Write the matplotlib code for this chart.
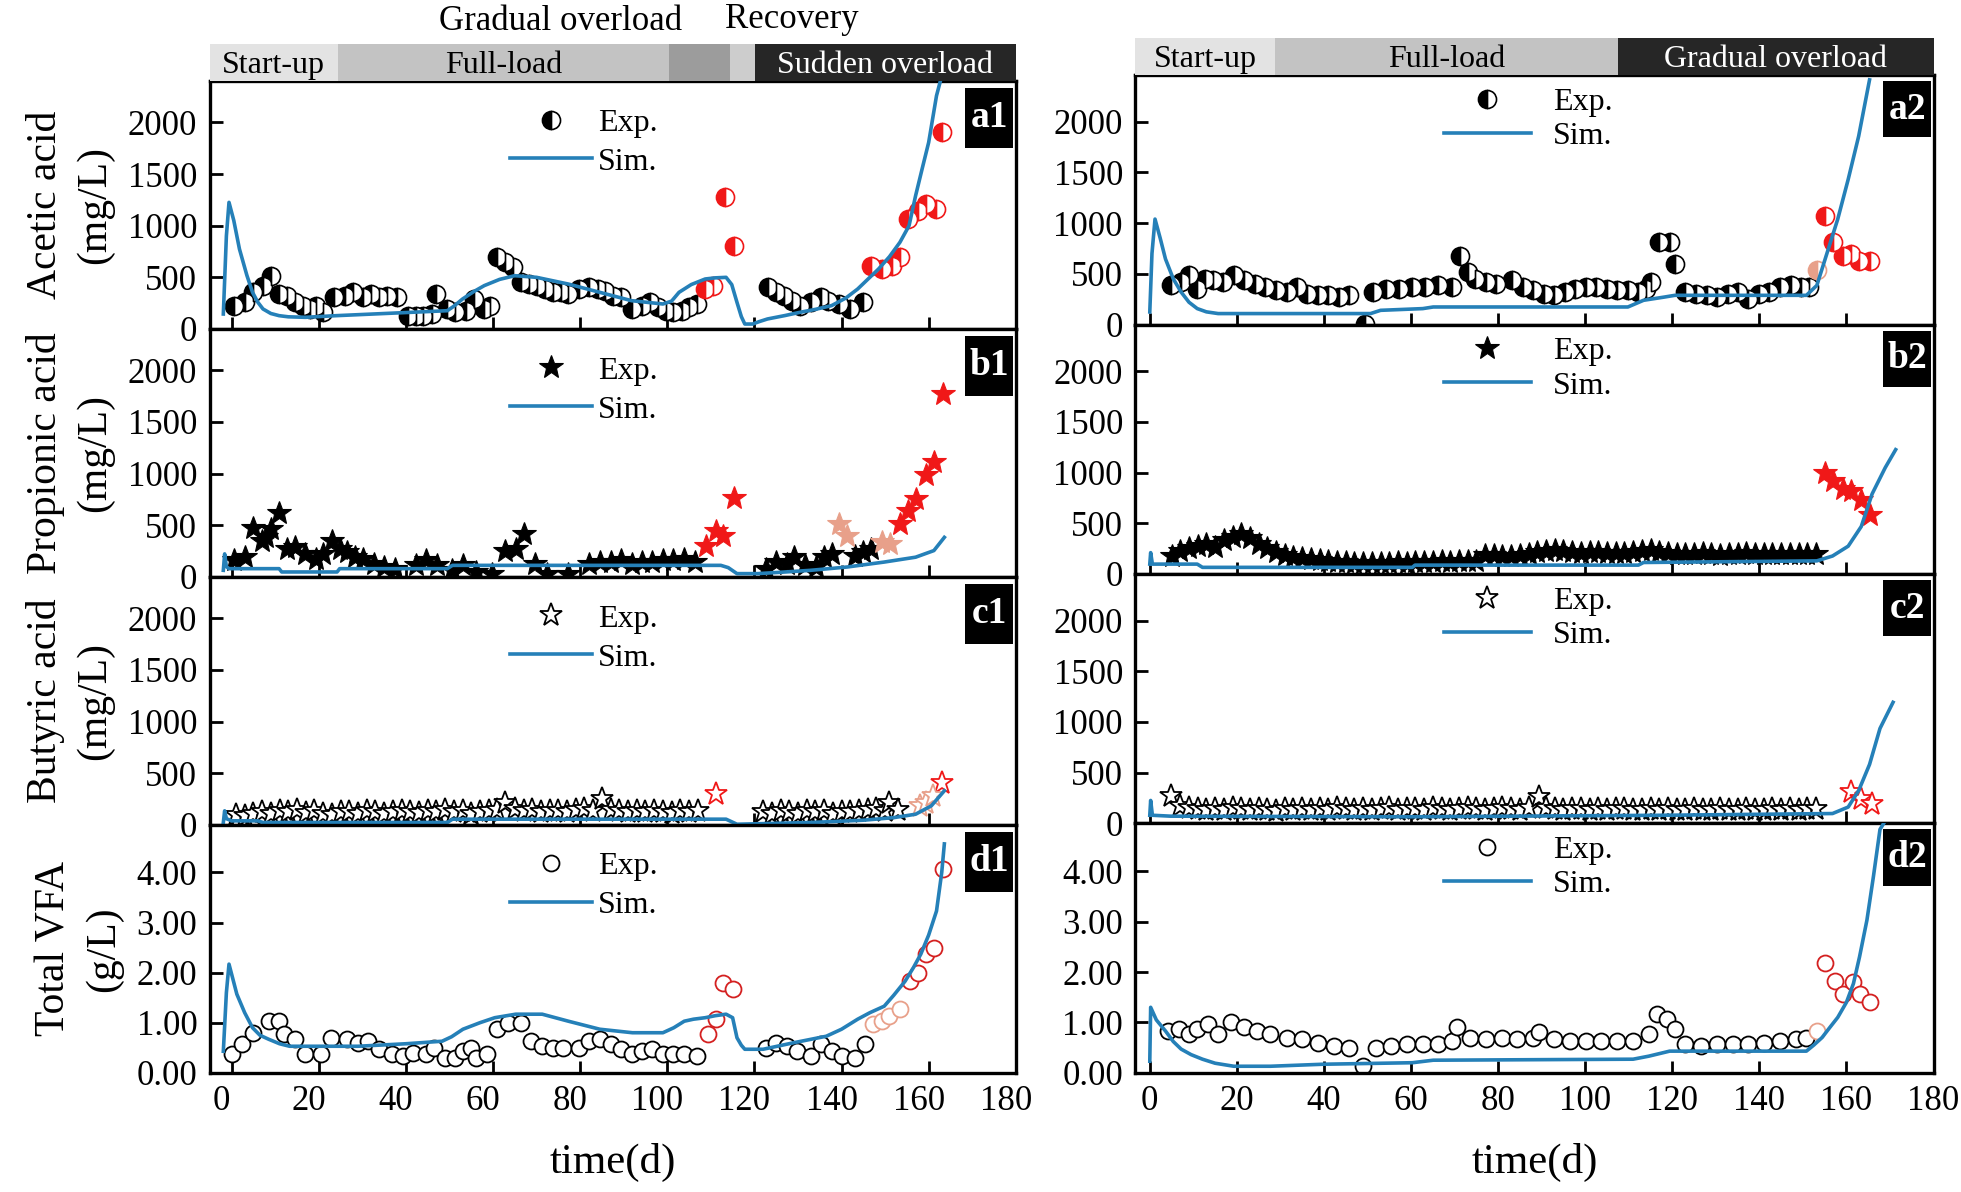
import matplotlib
matplotlib.use('Agg')
import matplotlib.pyplot as plt
from matplotlib.lines import Line2D
from matplotlib.patches import Rectangle
from matplotlib.transforms import ScaledTranslation

plt.rcParams['font.family'] = ['Liberation Serif', 'DejaVu Serif']

# ---------------- data ----------------
# Left column: a1 acetic, b1 propionic, c1 butyric, d1 total VFA
a1_t = [0.6, 3, 4.8, 7.2, 9, 10.9, 12.7, 14.5, 16.3, 18, 19.3, 21, 23.6, 26, 27.8, 30.2, 32, 33.8, 35.6, 38,
        40.5, 42.3, 44, 46, 47, 49.5, 51.3, 53.7, 55.6, 58, 59.2, 61, 62.8, 64.6, 66.4, 68.2, 70, 71.9, 73.7, 75.5,
        77.3, 79.7, 82.1, 84, 85.7, 87.6, 89.4, 91.8, 94.2, 96, 97.8, 99.6, 101.4, 103.3, 105, 106.9,
        123.2, 125, 126.8, 128.6, 130.4, 132.9, 135.3, 137, 139.5, 141.9, 144.9]
a1_v = [226, 258, 355, 420, 516, 339, 323, 258, 226, 194, 226, 161, 306, 323, 355, 306, 339, 306, 323, 306,
        129, 129, 129, 145, 339, 194, 161, 177, 290, 194, 226, 694, 645, 597, 452, 435, 420, 387, 355, 355,
        339, 387, 403, 387, 371, 323, 306, 194, 226, 258, 210, 177, 161, 177, 210, 242,
        403, 355, 323, 274, 226, 258, 306, 274, 242, 194, 258]
a1_red_t = [108.7, 110.5, 113.3, 115.3, 146.7, 149.2, 151.6, 153.4, 155.2, 157.6, 159.4, 161.6, 163]
a1_red_v = [387, 420, 1274, 806, 613, 581, 613, 694, 1065, 1145, 1210, 1161, 1903]
a1_sim_t = [-1.9, -1.2, -0.6, 0.5, 1.8, 3.5, 4.8, 6, 7.2, 9, 10.9, 13, 16.9, 24, 41, 49.5, 51, 53, 55.5, 58,
            61.5, 65, 70, 77.3, 84.5, 91.8, 99, 101, 102.7, 105.5, 108.7, 111, 113.5, 114.8, 116, 117, 117.8,
            119.6, 121, 123, 127, 130.4, 134, 137.7, 141, 143.7, 146, 148.5, 151, 153.4, 155.5, 157, 158.5,
            160, 161.8, 163]
a1_sim_v = [145, 900, 1226, 1050, 774, 520, 355, 260, 194, 150, 129, 118, 113, 129, 161, 177, 220, 290, 360, 420,
            480, 516, 500, 435, 355, 274, 242, 270, 355, 430, 484, 495, 500, 430, 258, 120, 48,
            48, 70, 97, 130, 161, 190, 226, 300, 387, 480, 581, 700, 839, 1000, 1290, 1550,
            1806, 2258, 2450]

b1_t = [0.6, 3, 4.8, 7, 7.9, 9, 10.9, 12.7, 14.5, 16.9, 19.3, 21, 23, 24.8, 26.6, 28.4, 30.2, 32.6, 35, 37.4,
        42.3, 44.7, 47.1, 50.7, 53.1, 56.2, 59.8, 62.8, 65.2, 67, 69.6, 72.5, 77.3, 82.1, 84.5, 87, 89.4, 91.8,
        94.2, 96.6, 99, 101.4, 103.9, 106.3, 122.6, 125, 127.4, 129.2, 131.6, 134.1, 135.9, 137.7, 143.1, 144.9, 146.7]
b1_v = [160, 191, 478, 351, 383, 463, 622, 271, 287, 223, 175, 223, 351, 271, 239, 191, 175, 128, 96, 80,
        112, 160, 112, 64, 112, 48, 32, 255, 271, 415, 128, 32, 32, 128, 144, 144, 160, 128,
        144, 144, 160, 160, 175, 144, 80, 144, 128, 191, 112, 96, 191, 223, 207, 239, 271]
b1_red_t = [109, 111.1, 112.9, 115.3, 153.4, 155.2, 157, 159.4, 161.2, 163.3]
b1_red_v = [303, 447, 399, 766, 510, 638, 750, 989, 1117, 1770]
b1_sal_t = [139.5, 141.3, 149.2, 151.2]
b1_sal_v = [510, 399, 335, 319]
b1_sim_t = [-1.9, -1.6, -1.2, -0.6, 10.9, 11.5, 24.2, 24.8, 49.5, 50.7, 68.8, 101.4, 112.3, 114, 116, 120.8,
            126, 132.9, 141.3, 149.8, 157, 161.2, 163.6]
b1_sim_v = [64, 223, 100, 80, 80, 48, 48, 80, 80, 112, 112, 112, 112, 90, 32, 32,
            45, 64, 96, 144, 191, 255, 383]

c1_t = [1, 3, 5, 7, 9, 11, 13, 15, 17, 19, 21, 23, 25, 27, 29, 31, 33, 35, 37, 39, 41, 43, 45, 47, 49, 51, 53,
        55, 57, 59, 61, 62.8, 65, 67, 69, 71, 73, 75, 77, 79, 81, 83, 85, 87, 89, 91, 93, 95, 97, 99, 101, 103,
        105, 107, 122, 124, 126, 128, 130, 132, 134, 136, 138, 140, 142, 144, 146, 148, 150, 151, 153]
c1_v = [100, 90, 110, 120, 105, 130, 125, 140, 115, 130, 110, 95, 120, 125, 110, 130, 120, 110, 125, 135, 120,
        115, 130, 125, 140, 120, 130, 110, 125, 135, 140, 215, 150, 130, 140, 120, 130, 135, 125, 140, 150, 130,
        250, 140, 130, 120, 135, 125, 130, 120, 115, 130, 120, 135, 120, 110, 130, 120, 110, 135, 125, 130, 110,
        125, 120, 135, 140, 150, 130, 215, 140]
c1_red_t = [111.1, 163]
c1_red_v = [297, 410]
c1_sal_t = [158, 159.4, 161]
c1_sal_v = [184, 216, 280]
c1_sim_t = [-1.9, -1.6, -1.2, 0, 6, 7.2, 49.5, 50.7, 70, 113.5, 116, 120, 133, 145, 152, 157, 160.6, 163.6]
c1_sim_v = [23, 136, 60, 39, 39, 23, 23, 55, 55, 55, 6, 10, 23, 45, 70, 103, 184, 330]

d1_t = [0, 2.4, 4.8, 8.5, 10.9, 12, 14.5, 16.9, 20.5, 22.9, 26.6, 29, 31.4, 33.8, 36.8, 39.3, 41.7, 44.7, 46.5,
        48.9, 51.3, 53.1, 55, 56.2, 58.6, 61, 63.4, 66.4, 68.8, 71.3, 73.7, 76, 79.7, 82.1, 84.5, 87, 89.4, 91.8,
        94.2, 96.6, 99, 101.4, 103.9, 106.9, 122.6, 125, 127.4, 129.8, 132.9, 135.3, 137.7, 140.1, 143.1, 145.5]
d1_v = [0.37, 0.57, 0.8, 1.03, 1.03, 0.77, 0.67, 0.37, 0.37, 0.7, 0.67, 0.6, 0.63, 0.47, 0.37, 0.33, 0.4, 0.37,
        0.5, 0.3, 0.3, 0.43, 0.5, 0.3, 0.37, 0.87, 1.0, 1.0, 0.63, 0.53, 0.5, 0.5, 0.5, 0.63, 0.67, 0.57, 0.47,
        0.37, 0.43, 0.47, 0.37, 0.37, 0.37, 0.33, 0.5, 0.6, 0.53, 0.43, 0.33, 0.57, 0.43, 0.33, 0.3, 0.57]
d1_red_t = [109.3, 111.1, 112.9, 115.1, 155.8, 157.6, 159.4, 161.2, 163.3]
d1_red_v = [0.77, 1.07, 1.8, 1.67, 1.83, 2.0, 2.37, 2.5, 4.07]
d1_sal_t = [147.3, 149.2, 151, 153.4]
d1_sal_v = [0.97, 1.03, 1.13, 1.27]
d1_sim_t = [-1.9, -1.2, -0.6, 1.2, 3, 4.8, 6.5, 8.5, 11, 13.3, 20, 29, 40, 48.3, 50.5, 53.1, 57, 60.4, 65.2,
            71.3, 77.3, 84.5, 92, 99, 101.5, 103.9, 106, 108.7, 111, 113.5, 115, 116, 117, 117.8, 122, 129,
            136.5, 140, 143.7, 146.5, 149.8, 152, 154.6, 156.5, 158.2, 160, 161.8, 163, 163.6]
d1_sim_v = [0.43, 1.6, 2.17, 1.57, 1.2, 0.9, 0.75, 0.67, 0.58, 0.53, 0.53, 0.53, 0.58, 0.63, 0.72, 0.87, 1.0,
            1.1, 1.17, 1.17, 1.03, 0.87, 0.8, 0.8, 0.9, 1.03, 1.07, 1.1, 1.14, 1.17, 1.1, 0.7, 0.55, 0.47,
            0.47, 0.6, 0.73, 0.87, 1.07, 1.2, 1.33, 1.55, 1.83, 2.1, 2.37, 2.75, 3.23, 4.0, 4.57]

# Right column: a2, b2, c2, d2
a2_t = [4.8, 7.2, 9, 10.9, 12.7, 14.5, 16.9, 19.3, 21.7, 24.1, 26.5, 29, 31.4, 33.8, 36.2, 38.6, 41, 43.4,
        45.8, 49.5, 51.3, 54.3, 57.3, 60.3, 63.3, 66.3, 69.4, 71.2, 73, 74.8, 77.2, 79.6, 83.2, 85.6, 88, 90.5,
        92.9, 95.3, 97.7, 100.1, 102.5, 104.9, 107.4, 109.8, 112.2, 114, 115.2, 117, 119.4, 120.6, 123, 125.5,
        127.9, 130.3, 132.7, 135.1, 137.5, 139.9, 142.3, 144.8, 147.2, 149.6, 151.4]
a2_v = [386, 419, 484, 353, 451, 435, 419, 484, 435, 402, 370, 337, 320, 370, 304, 288, 288, 271, 288, 10,
        320, 353, 353, 370, 370, 386, 370, 680, 517, 451, 419, 402, 435, 370, 337, 304, 288, 320, 353, 370,
        370, 353, 337, 337, 320, 353, 419, 811, 811, 598, 320, 304, 288, 271, 304, 320, 255, 304, 320, 370,
        386, 370, 370]
a2_red_t = [155, 156.8, 159.2, 161, 162.8, 165.3]
a2_red_v = [1072, 811, 680, 697, 631, 631]
a2_sal_t = [153.2]
a2_sal_v = [533]
a2_sim_t = [0, 0.5, 1.2, 2.4, 3.6, 5.4, 7.2, 9, 10.9, 13, 15.7, 33.8, 50.7, 53, 62.7, 65.1, 109.8, 113.4,
            118.2, 120.6, 130.3, 150.8, 153.2, 155.6, 158, 160.4, 162.8, 165.3]
a2_sim_v = [124, 700, 1040, 850, 647, 450, 320, 220, 157, 125, 108, 108, 108, 140, 157, 173, 173, 239,
            271, 288, 288, 288, 386, 713, 1040, 1432, 1857, 2413]

b2_t = [5, 7, 9, 11, 13, 15, 17, 19, 21, 23, 25, 27, 29, 31, 33, 35, 37, 39, 41, 43, 45, 47, 49, 51, 53, 55,
        57, 59, 61, 63, 65, 67, 69, 71, 73, 75, 77, 79, 81, 83, 85, 87, 89, 91, 93, 95, 97, 99, 101, 103, 105,
        107, 109, 111, 113, 115, 117, 119, 121, 123, 125, 127, 129, 131, 133, 135, 137, 139, 141, 143, 145,
        147, 149, 151, 153]
b2_v = [180, 230, 260, 280, 300, 270, 330, 360, 390, 350, 300, 260, 220, 190, 170, 160, 150, 140, 130, 120,
        115, 110, 110, 105, 110, 110, 115, 110, 120, 115, 120, 125, 120, 130, 125, 130, 190, 185, 180, 175,
        190, 200, 220, 230, 240, 230, 220, 210, 220, 215, 210, 205, 210, 220, 230, 240, 220, 210, 200, 195,
        200, 205, 195, 190, 195, 200, 205, 200, 195, 200, 195, 200, 195, 200, 200]
b2_red_t = [155, 156.8, 159.2, 161, 163.4, 165.3]
b2_red_v = [1000, 919, 839, 823, 726, 581]
b2_sim_t = [0, 0.2, 0.6, 10.9, 12.1, 60.3, 60.9, 112.2, 113.4, 153.2, 156.8, 160.4, 163.4, 165.9, 168.9, 171.3]
b2_sim_v = [97, 210, 97, 97, 65, 65, 87, 87, 113, 129, 177, 274, 468, 790, 1048, 1226]

c2_t = [4.8, 7, 9, 11, 13, 15, 17, 19, 21, 23, 25, 27, 29, 31, 33, 35, 37, 39, 41, 43, 45, 47, 49, 51, 53, 55,
        57, 59, 61, 63, 65, 67, 69, 71, 73, 75, 77, 79, 81, 83, 85, 87, 89.3, 91, 93, 95, 97, 99, 101, 103, 105,
        107, 109, 111, 113, 115, 117, 119, 121, 123, 125, 127, 129, 131, 133, 135, 137, 139, 141, 143, 145,
        147, 149, 151, 153]
c2_v = [274, 170, 150, 140, 130, 145, 135, 150, 140, 130, 145, 135, 125, 140, 130, 145, 135, 140, 130, 150,
        140, 135, 145, 130, 140, 150, 135, 145, 140, 130, 150, 140, 135, 145, 150, 140, 135, 145, 150, 140,
        135, 150, 258, 150, 140, 135, 145, 140, 130, 140, 135, 145, 140, 130, 135, 140, 130, 140, 135, 130,
        140, 135, 130, 140, 135, 130, 140, 135, 130, 140, 135, 140, 130, 140, 145]
c2_red_t = [161, 163.4, 165.9]
c2_red_v = [306, 242, 194]
c2_sim_t = [0, 0.2, 0.6, 4.8, 60, 118, 156.8, 160.4, 162.8, 165.3, 167.7, 170.7]
c2_sim_v = [80, 226, 80, 71, 65, 80, 97, 161, 323, 581, 936, 1194]

d2_t = [4.2, 6.6, 9, 10.9, 13.3, 15.7, 18.7, 21.7, 24.7, 27.7, 31.4, 35, 38.6, 42.2, 45.8, 48.9, 51.9, 55.5,
        59.1, 62.7, 66.3, 69.4, 70.6, 73.6, 77.2, 80.8, 84.4, 88, 89.3, 92.9, 96.5, 100.1, 103.7, 107.4, 111,
        114.6, 116.4, 118.8, 120.6, 123, 126.7, 130.3, 133.9, 137.5, 141.1, 144.8, 148.4, 150.8]
d2_v = [0.83, 0.87, 0.77, 0.87, 0.97, 0.77, 1.0, 0.9, 0.83, 0.77, 0.7, 0.67, 0.6, 0.53, 0.5, 0.13, 0.5, 0.53,
        0.57, 0.57, 0.57, 0.63, 0.9, 0.7, 0.67, 0.7, 0.67, 0.7, 0.8, 0.67, 0.63, 0.63, 0.63, 0.63, 0.63,
        0.77, 1.17, 1.07, 0.87, 0.57, 0.53, 0.57, 0.57, 0.57, 0.6, 0.63, 0.67, 0.7]
d2_red_t = [155, 157.4, 159.2, 161.4, 163.1, 165.3]
d2_red_v = [2.17, 1.83, 1.57, 1.8, 1.57, 1.4]
d2_sal_t = [153.2]
d2_sal_v = [0.83]
d2_sim_t = [0, 0.2, 1.5, 3.6, 5.4, 7.2, 9.5, 12.1, 15, 19.3, 27.7, 39.8, 60.3, 65.1, 111, 114.6, 119.4,
            150.8, 152.5, 154.4, 156, 158, 160, 161.6, 163, 164.7, 166.2, 167.7, 168.9]
d2_sim_v = [0.23, 1.3, 1.05, 0.83, 0.62, 0.47, 0.36, 0.27, 0.19, 0.13, 0.13, 0.17, 0.2, 0.25, 0.27, 0.33,
            0.43, 0.43, 0.55, 0.7, 0.88, 1.1, 1.4, 1.77, 2.3, 3.03, 3.9, 4.83, 5.0]

ylabels = ['Acetic acid\n(mg/L)', 'Propionic acid\n(mg/L)', 'Butyric acid\n(mg/L)', 'Total VFA\n(g/L)']
xticks = [0, 20, 40, 60, 80, 100, 120, 140, 160, 180]
mg_ticks = [0, 500, 1000, 1500, 2000]
g_ticks = [0, 1, 2, 3, 4]

left_phases = [(-5, 24.4, '#e3e3e3', 'Start-up', 'black'),
               (24.4, 100.5, '#c3c3c3', 'Full-load', 'black'),
               (100.5, 114.3, '#9c9c9c', '', 'black'),
               (114.3, 120.1, '#cdcdcd', '', 'black'),
               (120.1, 180, '#262626', 'Sudden overload', 'white')]
right_phases = [(-3.3, 28.7, '#e3e3e3', 'Start-up', 'black'),
                (28.7, 107.5, '#c3c3c3', 'Full-load', 'black'),
                (107.5, 180, '#262626', 'Gradual overload', 'white')]

# ---------------- styling ----------------
BLUE = '#2580b8'
RED = '#f01818'
SAL = '#e8a08a'

fig = plt.figure(figsize=(19.61, 11.92), dpi=100)

cols = {
    'L': dict(left=0.107, right=0.518, top=0.932, bottom=0.100, xlim=(-5, 180)),
    'R': dict(left=0.579, right=0.986, top=0.937, bottom=0.100, xlim=(-3.3, 180)),
}


def make_axes(c):
    h = (c['top'] - c['bottom']) / 4
    axs = []
    for i in range(4):
        ax = fig.add_axes([c['left'], c['top'] - (i + 1) * h, c['right'] - c['left'], h])
        axs.append(ax)
    return axs


def style(ax, xlim, ylim, yticks, ylabels_fmt, bottom):
    ax.set_xlim(*xlim)
    ax.set_ylim(*ylim)
    ax.set_xticks(xticks)
    ax.set_yticks(yticks)
    ax.set_yticklabels(ylabels_fmt)
    ax.tick_params(direction='in', length=9, width=2, labelsize=25, pad=9)
    if not bottom:
        ax.tick_params(axis='x', labelbottom=False)
    for s in ax.spines.values():
        s.set_linewidth(2.4)


def panel_label(ax, txt, x0, y0, y1):
    ax.add_patch(Rectangle((x0, y0), 0.997 - x0, y1 - y0, transform=ax.transAxes,
                           facecolor='black', edgecolor='none', zorder=6, clip_on=False))
    ax.text((x0 + 0.997) / 2, (y0 + y1) / 2, txt, transform=ax.transAxes, ha='center', va='center',
            color='white', fontsize=27, fontweight='bold', zorder=7)


def legend(ax, mk, anchor, hl, htp, ls):
    h1 = Line2D([], [], linestyle='none', **mk)
    h2 = Line2D([], [], color=BLUE, lw=2.6)
    ax.legend([h1, h2], ['Exp.', 'Sim.'], loc='upper left', bbox_to_anchor=anchor, frameon=False,
              fontsize=23, handlelength=hl, handletextpad=htp, labelspacing=ls, borderpad=0,
              borderaxespad=0, numpoints=1)


mk_a = dict(marker='o', markersize=13, fillstyle='left', markerfacecolor='black',
            markerfacecoloralt='white', markeredgecolor='black', markeredgewidth=1.2)
mk_a_red = dict(mk_a, markerfacecolor=RED, markeredgecolor=RED)
mk_a_sal = dict(mk_a, markerfacecolor=SAL, markeredgecolor=SAL)
mk_b = dict(marker='*', markersize=18, markerfacecolor='black', markeredgecolor='black', markeredgewidth=0.8)
mk_b_red = dict(mk_b, markerfacecolor=RED, markeredgecolor=RED)
mk_b_sal = dict(mk_b, markerfacecolor=SAL, markeredgecolor=SAL)
mk_c = dict(marker='*', markersize=17, markerfacecolor='white', markeredgecolor='black', markeredgewidth=1.3)
mk_c_red = dict(mk_c, markeredgecolor=RED)
mk_c_sal = dict(mk_c, markeredgecolor=SAL)
mk_d = dict(marker='o', markersize=11.5, markerfacecolor='white', markeredgecolor='black', markeredgewidth=1.3)
mk_d_red = dict(mk_d, markeredgecolor='#d42020')
mk_d_sal = dict(mk_d, markeredgecolor=SAL)


def pts(ax, t, v, mk):
    ax.plot(t, v, linestyle='none', zorder=2, **mk)


def sim(ax, t, v):
    ax.plot(t, v, color=BLUE, lw=2.6, zorder=3)


L = make_axes(cols['L'])
R = make_axes(cols['R'])

# a1
ax = L[0]
pts(ax, a1_t, a1_v, mk_a); pts(ax, a1_red_t, a1_red_v, mk_a_red); sim(ax, a1_sim_t, a1_sim_v)
# b1
ax = L[1]
pts(ax, b1_t, b1_v, mk_b); pts(ax, b1_red_t, b1_red_v, mk_b_red); pts(ax, b1_sal_t, b1_sal_v, mk_b_sal)
sim(ax, b1_sim_t, b1_sim_v)
# c1
ax = L[2]
pts(ax, c1_t, c1_v, mk_c); pts(ax, c1_red_t, c1_red_v, mk_c_red); pts(ax, c1_sal_t, c1_sal_v, mk_c_sal)
sim(ax, c1_sim_t, c1_sim_v)
# d1
ax = L[3]
pts(ax, d1_t, d1_v, mk_d); pts(ax, d1_red_t, d1_red_v, mk_d_red); pts(ax, d1_sal_t, d1_sal_v, mk_d_sal)
sim(ax, d1_sim_t, d1_sim_v)

# a2
ax = R[0]
pts(ax, a2_t, a2_v, mk_a); pts(ax, a2_red_t, a2_red_v, mk_a_red); pts(ax, a2_sal_t, a2_sal_v, mk_a_sal)
sim(ax, a2_sim_t, a2_sim_v)
# b2
ax = R[1]
pts(ax, b2_t, b2_v, mk_b); pts(ax, b2_red_t, b2_red_v, mk_b_red); sim(ax, b2_sim_t, b2_sim_v)
# c2
ax = R[2]
pts(ax, c2_t, c2_v, mk_c); pts(ax, c2_red_t, c2_red_v, mk_c_red); sim(ax, c2_sim_t, c2_sim_v)
# d2
ax = R[3]
pts(ax, d2_t, d2_v, mk_d); pts(ax, d2_red_t, d2_red_v, mk_d_red); pts(ax, d2_sal_t, d2_sal_v, mk_d_sal)
sim(ax, d2_sim_t, d2_sim_v)

mg_lbl = [str(v) for v in mg_ticks]
g_lbl = ['%.2f' % v for v in g_ticks]
mks = [mk_a, mk_b, mk_c, mk_d]
names_L = ['a1', 'b1', 'c1', 'd1']
names_R = ['a2', 'b2', 'c2', 'd2']
for i in range(4):
    isg = (i == 3)
    style(L[i], cols['L']['xlim'], (0, 4.95) if isg else (0, 2400), g_ticks if isg else mg_ticks,
          g_lbl if isg else mg_lbl, i == 3)
    style(R[i], cols['R']['xlim'], (0, 4.95) if isg else (0, 2460), g_ticks if isg else mg_ticks,
          g_lbl if isg else mg_lbl, i == 3)
    L[i].set_ylabel(ylabels[i], fontsize=30, linespacing=1.35, labelpad=10)
    panel_label(L[i], names_L[i], 0.937, 0.73, 0.972)
    panel_label(R[i], names_R[i], 0.937, 0.75, 0.976)
    legend(L[i], mks[i], (0.373, 0.89), 2.55, 0.2, 0.3)
    legend(R[i], mks[i], (0.387, 0.95), 2.7, 0.7, 0.15)

for ax in (L[3], R[3]):
    ax.set_xlabel('time(d)', fontsize=31, labelpad=18)

# shift left-column x tick labels slightly left, as in the reference
shift = ScaledTranslation(-0.10, 0, fig.dpi_scale_trans)
for lbl in L[3].get_xticklabels():
    lbl.set_transform(lbl.get_transform() + shift)


# ---------------- phase bars ----------------
def phase_bar(c, bottom, height, phases):
    bax = fig.add_axes([c['left'], bottom, c['right'] - c['left'], height])
    bax.set_xlim(*c['xlim'])
    bax.set_ylim(0, 1)
    bax.axis('off')
    for x0, x1, col, txt, tc in phases:
        bax.add_patch(Rectangle((x0, 0), x1 - x0, 1, facecolor=col, edgecolor='none'))
        if txt:
            bax.text((x0 + x1) / 2, 0.42, txt, ha='center', va='center', fontsize=23, color=tc)
    return bax


phase_bar(cols['L'], 0.932, 0.031, left_phases)
phase_bar(cols['R'], 0.937, 0.0315, right_phases)

fig.text(0.286, 0.982, 'Gradual overload', ha='center', va='center', fontsize=25)
fig.text(0.404, 0.984, 'Recovery', ha='center', va='center', fontsize=25)

fig.savefig('out.png', dpi=100)
